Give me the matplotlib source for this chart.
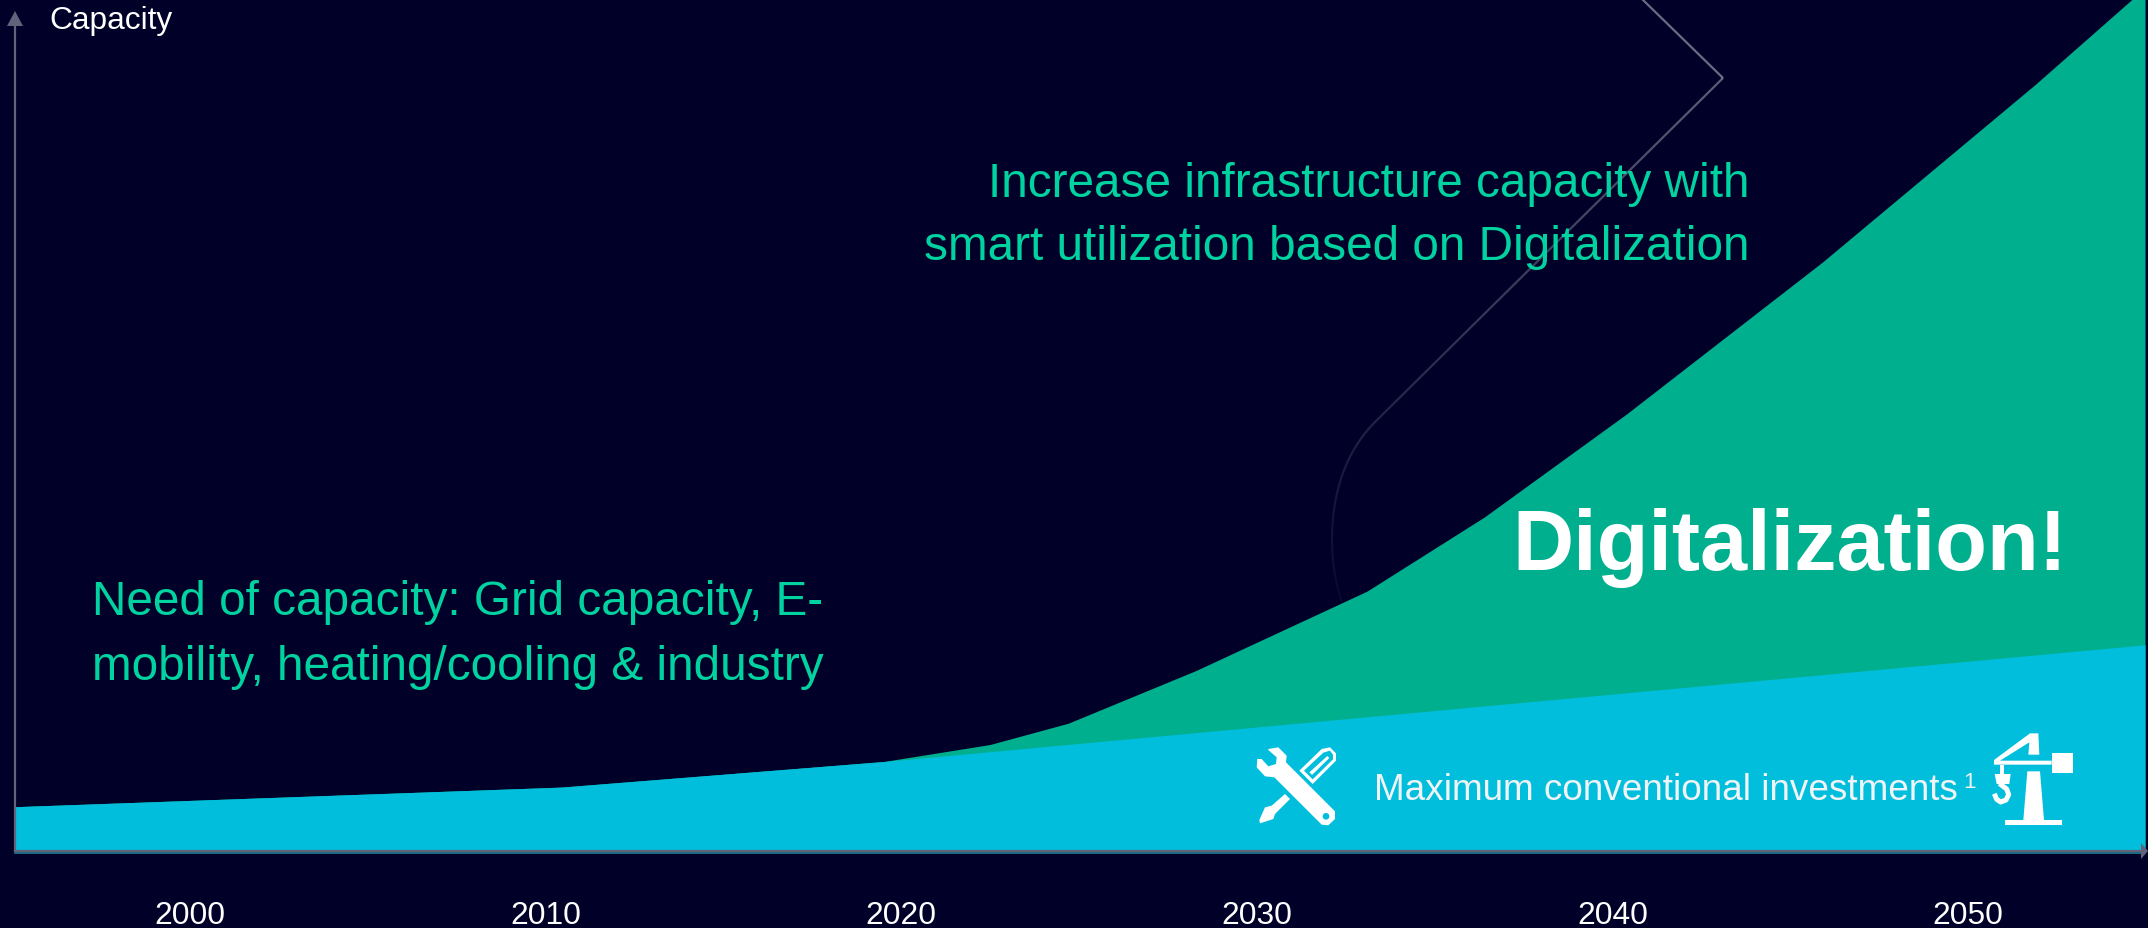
import numpy as np
import matplotlib
matplotlib.use('Agg')
import matplotlib.pyplot as plt
from matplotlib.collections import LineCollection
from matplotlib.patches import Polygon, Circle
from matplotlib.transforms import Affine2D

plt.rcParams['font.family'] = ['Liberation Sans', 'DejaVu Sans']

# values, capacity in % of the plot height
digital_years = [1995.08, 2010.45, 2019.5, 2022.5, 2024.7, 2028.3, 2033.1, 2036.4, 2040.4, 2045.9, 2051.9, 2054.98]
digital_capacity = [5.2, 7.5, 10.5, 12.5, 15.0, 21.2, 30.5, 39.2, 51.3, 69.1, 90.0, 101.3]
conventional_years = [1995.08, 2010.45, 2019.5, 2054.98]
conventional_capacity = [5.2, 7.5, 10.5, 24.2]
tick_years = [2000, 2010, 2020, 2030, 2040, 2050]

BG = '#000028'
GREEN = '#00AF8E'
BLUE = '#00BEDC'
TEXT_GREEN = '#00D2A0'
AXIS = '#62627A'
W, H = 2148, 929

fig = plt.figure(figsize=(W / 100, H / 100), dpi=100, facecolor=BG)
ax = fig.add_axes([15 / W, (H - 852) / H, 2130 / W, 852 / H])
ax.set_facecolor(BG)
ax.set_xlim(1995.08, 2054.98)
ax.set_ylim(0, 100)
for s in ax.spines.values():
    s.set_visible(False)
ax.set_yticks([])
ax.set_xticks(tick_years)
ax.set_xticklabels([str(y) for y in tick_years], fontsize=22.9, color='white')
ax.tick_params(axis='x', length=0, pad=35)

ax.fill_between(digital_years, 0, digital_capacity, color=GREEN, lw=0, zorder=2)
ax.fill_between(conventional_years, 0, conventional_capacity, color=BLUE, lw=0, zorder=3)

# pixel space of the image, y downwards, for the decoration
px = Affine2D().scale(1 / W, -1 / H).translate(0, 1) + fig.transFigure


def bezier(p0, p1, p2, p3, n=30):
    s = np.linspace(0, 1, n)[:, None]
    p0, p1, p2, p3 = map(np.array, (p0, p1, p2, p3))
    return (1 - s) ** 3 * p0 + 3 * (1 - s) ** 2 * s * p1 + 3 * (1 - s) * s ** 2 * p2 + s ** 3 * p3


# faint chevron behind the area, fades out towards the bottom
chev = np.vstack([[[1642, 0], [1723, 79]],
                  np.c_[np.linspace(1723, 1377, 60), np.linspace(79, 421, 60)],
                  bezier((1377, 421), (1345, 452), (1332, 495), (1332, 541)),
                  bezier((1332, 541), (1332, 565), (1336, 585), (1342, 603))])
segs = np.stack([chev[:-1], chev[1:]], axis=1)
dist = np.r_[0, np.cumsum(np.hypot(*np.diff(chev, axis=0).T))][:-1]
alpha = np.interp(dist, [0, dist[-1] * 0.6, dist[-1]], [0.42, 0.2, 0.04])
cols = [(1, 1, 1, a) for a in alpha]
ax.add_collection(LineCollection(segs, colors=cols, linewidths=1.6, transform=px, zorder=1, clip_on=False), autolim=False)

# axis arrows
ax.plot([15, 15], [852, 20], color=AXIS, lw=1.6, transform=px, clip_on=False, zorder=5)
ax.plot([15, 2142], [854, 854], color='#1F7F96', lw=1.2, transform=px, clip_on=False, zorder=5)
ax.plot([15, 2142], [852, 852], color=AXIS, lw=1.6, transform=px, clip_on=False, zorder=5)
ax.add_patch(Polygon([[15, 12], [7, 27], [23, 27]], fc=AXIS, ec='none', transform=px, clip_on=False, zorder=5))
ax.add_patch(Polygon([[2148, 852], [2141, 844], [2141, 860]], fc=AXIS, ec='none', transform=px, clip_on=False, zorder=5))


def icon_poly(points, x0, y0, color='white'):
    # points are given in 3x zoomed coordinates of the icon
    xy = np.array(points, float) / 3 + [x0, y0]
    ax.add_patch(Polygon(xy, fc=color, ec='none', transform=px, clip_on=False, zorder=6))


# tools icon
x0, y0 = 1240, 735
icon_poly([[85, 45], [115, 40], [140, 65], [138, 85], [285, 232], [285, 255], [265, 274], [245, 272], [103, 130], [75, 127],
           [50, 100], [52, 75], [65, 75], [85, 97], [108, 90], [110, 70], [85, 48]], x0, y0)
ax.add_patch(Circle((x0 + 258 / 3, y0 + 247 / 3), 10 / 3, fc=BLUE, ec='none', transform=px, clip_on=False, zorder=7))
icon_poly([[135, 180], [150, 195], [105, 240], [100, 255], [60, 268], [58, 258], [75, 220], [95, 215]], x0, y0)
icon_poly([[178, 110], [245, 45], [270, 40], [288, 58], [288, 80], [218, 150]], x0, y0)
icon_poly([[192, 110], [250, 56], [270, 50], [279, 62], [279, 76], [218, 136]], x0, y0, BLUE)
icon_poly([[208, 115], [262, 66], [268, 72], [216, 123]], x0, y0)

# crane icon
x0, y0 = 1980, 725
icon_poly([[42, 108], [150, 28], [175, 28], [178, 92], [145, 92], [148, 55], [60, 110], [215, 110], [215, 122], [42, 122]], x0, y0)
icon_poly([[215, 88], [278, 88], [278, 146], [215, 146]], x0, y0)
icon_poly([[60, 122], [72, 122], [72, 150], [60, 150]], x0, y0)
icon_poly([[44, 150], [92, 150], [88, 180], [50, 180]], x0, y0)
icon_poly([[142, 142], [180, 142], [192, 288], [130, 288]], x0, y0)
icon_poly([[75, 288], [246, 288], [246, 304], [75, 304]], x0, y0)
hook = np.array([[64, 183], [80, 195], [86, 212], [78, 228], [62, 234], [50, 226], [46, 216]], float) / 3 + [x0, y0]
ax.plot(hook[:, 0], hook[:, 1], color='white', lw=3.6, transform=px, clip_on=False, zorder=6)

# texts
ax.text(49, 29, 'Capacity', fontsize=22.8, color='white', va='baseline', transform=px, clip_on=False)
ax.text(1750, 197, 'Increase infrastructure capacity with', fontsize=34.4, color=TEXT_GREEN, ha='right', va='baseline', transform=px, zorder=8)
ax.text(1750, 260, 'smart utilization based on Digitalization', fontsize=34.4, color=TEXT_GREEN, ha='right', va='baseline', transform=px, zorder=8)
ax.text(92, 615, 'Need of capacity: Grid capacity, E-', fontsize=34.4, color=TEXT_GREEN, va='baseline', transform=px, zorder=8)
ax.text(92, 680, 'mobility, heating/cooling & industry', fontsize=34.4, color=TEXT_GREEN, va='baseline', transform=px, zorder=8)
ax.text(1512, 570, 'Digitalization!', fontsize=61, fontweight='bold', color='white', va='baseline', transform=px, zorder=8)
ax.text(1374, 800, 'Maximum conventional investments', fontsize=26.6, color='#F0F4F6', va='baseline', transform=px, zorder=8)
ax.text(1963, 788, '1', fontsize=16, color='#F0F4F6', va='baseline', transform=px, zorder=8)

fig.savefig('out.png', dpi=100, facecolor=BG)
